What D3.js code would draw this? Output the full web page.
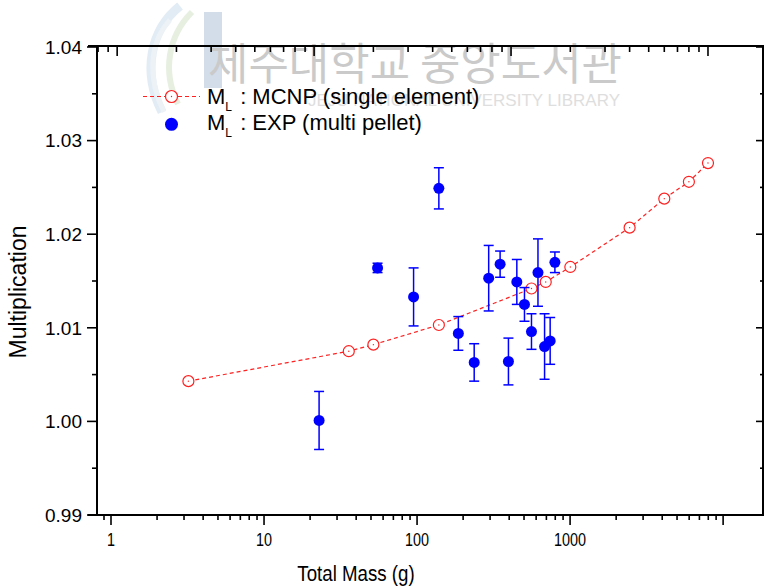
<!DOCTYPE html>
<html>
<head>
<meta charset="utf-8">
<script src="https://cdn.jsdelivr.net/npm/d3@7"></script>
<style>
  body { margin: 0; background: #fff; }
  text { font-family: "Liberation Sans", Arial, sans-serif; }
</style>
</head>
<body>
<div id="chart"></div>
<script>
// MCNP calculation (single element)
var mcnpMass = [2.3, 15, 20, 43, 127, 150, 200, 400, 600, 800, 1000];
var mcnpMult = [1.0043, 1.0075, 1.0082, 1.0103, 1.0142, 1.0149, 1.0165, 1.0207, 1.0238, 1.0256, 1.0276];

// experiment (multi pellet)
var expMass = [10.6, 21, 32, 43, 54, 65, 77, 88, 97, 107, 117, 127, 137, 148, 158, 167];
var expMult = [1.0001, 1.0164, 1.0133, 1.0249, 1.0094, 1.0063, 1.0153, 1.0168, 1.0064, 1.0149, 1.0125, 1.0096, 1.0159, 1.0080, 1.0086, 1.0170];
var expErr  = [0.0031, 0.0005, 0.0031, 0.0022, 0.0018, 0.0020, 0.0035, 0.0014, 0.0025, 0.0024, 0.0018, 0.0019, 0.0036, 0.0035, 0.0025, 0.0011];

// axis labels
var xLabels = [1, 10, 100, 1000];
var yLabels = [0.99, 1.00, 1.01, 1.02, 1.03, 1.04];

var width = 764;
var height = 588;

var svg = d3.select('#chart')
  .append('svg')
  .attr('width', width)
  .attr('height', height);

// scales (top axis and data share one log scale, bottom axis has its own)
var x = d3.scaleLog().domain([0.79, 1925]).range([97, 764]);
var xBottom = d3.scaleLog().domain([0.81, 18500]).range([97, 764]);
var y = d3.scaleLinear().domain([0.99, 1.04]).range([515, 47]);

// watermark behind everything
var wm = svg.append('g').attr('class', 'watermark');
wm.append('path')
  .attr('d', 'M180,6 C150,30 142,72 162,112')
  .attr('fill', 'none').attr('stroke', '#e2ecf4').attr('stroke-width', 9);
wm.append('path')
  .attr('d', 'M192,12 C168,36 162,72 178,104')
  .attr('fill', 'none').attr('stroke', '#e6efe0').attr('stroke-width', 6);
wm.append('path')
  .attr('d', 'M170,20 C148,44 148,80 164,112')
  .attr('fill', 'none').attr('stroke', '#edf2f7').attr('stroke-width', 5);
wm.append('rect')
  .attr('x', 204).attr('y', 12).attr('width', 18).attr('height', 76)
  .attr('fill', '#d3dde9');
wm.append('text')
  .attr('x', 208).attr('y', 80)
  .attr('textLength', 414)
  .attr('lengthAdjust', 'spacingAndGlyphs')
  .style('font-family', '"Noto Sans CJK KR", sans-serif')
  .style('font-size', '44px')
  .attr('fill', '#cacaca')
  .text('제주대학교 중앙도서관');
wm.append('text')
  .attr('x', 620).attr('y', 106)
  .attr('text-anchor', 'end')
  .style('font-size', '17px')
  .attr('fill', '#dedede')
  .text('JEJU NATIONAL UNIVERSITY LIBRARY');

// tick value lists for log axes
function logTicks(lo, hi) {
  var t = [];
  for (var e = -1; e <= 4; e++) {
    for (var k = 1; k <= 9; k++) {
      var v = k * Math.pow(10, e);
      if (v >= lo && v <= hi) t.push({ v: v, major: k === 1 });
    }
  }
  return t;
}

var yTicks = d3.range(0, 11).map(function(i) {
  return { v: 0.99 + i * 0.005, major: i % 2 === 0 };
});

var axes = svg.append('g').attr('stroke', '#000');

// frame lines
axes.append('line').attr('x1', 88).attr('x2', 764).attr('y1', y(0.99)).attr('y2', y(0.99)).attr('stroke-width', 2);
axes.append('line').attr('x1', 88).attr('x2', 764).attr('y1', 46).attr('y2', 46).attr('stroke-width', 2);
axes.append('line').attr('x1', 97).attr('x2', 97).attr('y1', 46).attr('y2', y(0.99)).attr('stroke-width', 2);
axes.append('line').attr('x1', 763).attr('x2', 763).attr('y1', 46).attr('y2', y(0.99)).attr('stroke-width', 2);

// bottom ticks (outward)
axes.selectAll('.tb')
  .data(logTicks(0.85, 18500))
  .enter()
  .append('line')
  .attr('x1', function(d) { return xBottom(d.v); })
  .attr('x2', function(d) { return xBottom(d.v); })
  .attr('y1', 515)
  .attr('y2', function(d) { return d.major ? 525 : 520; })
  .attr('stroke-width', 1.6);

// top ticks (inward)
axes.selectAll('.tt')
  .data(logTicks(0.8, 1925))
  .enter()
  .append('line')
  .attr('x1', function(d) { return x(d.v); })
  .attr('x2', function(d) { return x(d.v); })
  .attr('y1', 46)
  .attr('y2', function(d) { return d.major ? 56 : 52; })
  .attr('stroke-width', 1.6);

// left ticks (outward)
axes.selectAll('.tl')
  .data(yTicks)
  .enter()
  .append('line')
  .attr('x1', function(d) { return d.major ? 87 : 92; })
  .attr('x2', 97)
  .attr('y1', function(d) { return y(d.v); })
  .attr('y2', function(d) { return y(d.v); })
  .attr('stroke-width', 1.6);

// right ticks (inward)
axes.selectAll('.tr')
  .data(yTicks)
  .enter()
  .append('line')
  .attr('x1', function(d) { return d.major ? 756 : 760; })
  .attr('x2', 763)
  .attr('y1', function(d) { return y(d.v); })
  .attr('y2', function(d) { return y(d.v); })
  .attr('stroke-width', 1.6);

// tick labels (the scan squeezes the x labels a bit)
svg.selectAll('.xl')
  .data(xLabels)
  .enter()
  .append('text')
  .attr('transform', function(d) { return 'translate(' + xBottom(d) + ',546) scale(0.8,1)'; })
  .attr('text-anchor', 'middle')
  .style('font-size', '18px')
  .text(function(d) { return d; });

svg.selectAll('.yl')
  .data(yLabels)
  .enter()
  .append('text')
  .attr('x', 82)
  .attr('y', function(d) { return y(d); })
  .attr('dy', '0.36em')
  .attr('text-anchor', 'end')
  .style('font-size', '19px')
  .text(function(d) { return d3.format('.2f')(d); });

// axis titles
svg.append('text')
  .attr('transform', 'translate(356,581) scale(0.85,1)')
  .attr('text-anchor', 'middle')
  .style('font-size', '22px')
  .text('Total Mass (g)');

svg.append('text')
  .attr('transform', 'translate(26,292) rotate(-90)')
  .attr('text-anchor', 'middle')
  .style('font-size', '23px')
  .text('Multiplication');

// MCNP dashed line with open circles
var mcnp = mcnpMass.map(function(m, i) { return [m, mcnpMult[i]]; });

var line = d3.line()
  .x(function(d) { return x(d[0]); })
  .y(function(d) { return y(d[1]); });

svg.append('path')
  .datum(mcnp)
  .attr('d', line)
  .attr('fill', 'none')
  .attr('stroke', '#ff2020')
  .attr('stroke-width', 1.2)
  .attr('stroke-dasharray', '4,3');

var circ = svg.selectAll('.mc')
  .data(mcnp)
  .enter()
  .append('g')
  .attr('transform', function(d) { return 'translate(' + x(d[0]) + ',' + y(d[1]) + ')'; });
circ.append('circle').attr('r', 5.5).attr('fill', '#fff').attr('stroke', '#ff2020').attr('stroke-width', 1.2);
circ.append('circle').attr('r', 0.7).attr('fill', '#ff2020');

// experimental points with error bars
var exp = expMass.map(function(m, i) { return { m: m, v: expMult[i], e: expErr[i] }; });

var eb = svg.selectAll('.ex')
  .data(exp)
  .enter()
  .append('g')
  .attr('stroke', '#0000ff')
  .attr('stroke-width', 1.5);
eb.append('line')
  .attr('x1', function(d) { return x(d.m); })
  .attr('x2', function(d) { return x(d.m); })
  .attr('y1', function(d) { return y(d.v + d.e); })
  .attr('y2', function(d) { return y(d.v - d.e); });
eb.append('line')
  .attr('x1', function(d) { return x(d.m) - 5; })
  .attr('x2', function(d) { return x(d.m) + 5; })
  .attr('y1', function(d) { return y(d.v + d.e); })
  .attr('y2', function(d) { return y(d.v + d.e); });
eb.append('line')
  .attr('x1', function(d) { return x(d.m) - 5; })
  .attr('x2', function(d) { return x(d.m) + 5; })
  .attr('y1', function(d) { return y(d.v - d.e); })
  .attr('y2', function(d) { return y(d.v - d.e); });

svg.selectAll('.ed')
  .data(exp)
  .enter()
  .append('circle')
  .attr('cx', function(d) { return x(d.m); })
  .attr('cy', function(d) { return y(d.v); })
  .attr('r', 5.5)
  .attr('fill', '#0000ff');

// legend
var legend = svg.append('g');
legend.append('line')
  .attr('x1', 143).attr('x2', 200).attr('y1', 96.5).attr('y2', 96.5)
  .attr('stroke', '#ff2020').attr('stroke-width', 1.2).attr('stroke-dasharray', '4,3');
legend.append('circle').attr('cx', 171.5).attr('cy', 96.5).attr('r', 6)
  .attr('fill', '#fff').attr('stroke', '#ff2020').attr('stroke-width', 1.2);
legend.append('circle').attr('cx', 171.5).attr('cy', 96.5).attr('r', 0.7).attr('fill', '#ff2020');
legend.append('circle').attr('cx', 171.5).attr('cy', 124.3).attr('r', 6.5).attr('fill', '#0000ff');

var legendText = [' : MCNP (single element)', ' : EXP (multi pellet)'];
legend.selectAll('.lt')
  .data(legendText)
  .enter()
  .append('text')
  .attr('x', 207)
  .attr('y', function(d, i) { return 104 + i * 26; })
  .style('font-size', '22px')
  .each(function(d) {
    var t = d3.select(this);
    t.append('tspan').text('M');
    t.append('tspan').attr('dy', 7).style('font-size', '12px').text('L');
    t.append('tspan').attr('dy', -7).attr('dx', 2).text(d);
  });
</script>
</body>
</html>
